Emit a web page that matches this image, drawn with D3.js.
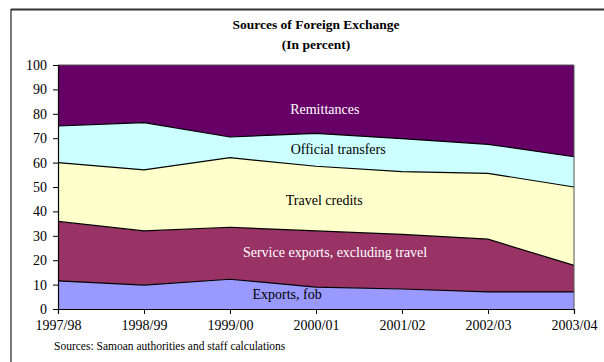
<!DOCTYPE html>
<html>
<head>
<meta charset="utf-8">
<script src="https://cdn.jsdelivr.net/npm/d3@7/dist/d3.min.js"></script>
<style>
  html, body { margin: 0; padding: 0; background: #fff; }
  svg { display: block; }
  text { font-family: "Liberation Serif", "Times New Roman", serif; }
</style>
</head>
<body>
<svg id="chart" width="604" height="362"></svg>
<script>
// Fiscal years on the horizontal axis
const years = ["1997/98", "1998/99", "1999/00", "2000/01", "2001/02", "2002/03", "2003/04"];

// Shares of total foreign exchange receipts, in percent (bottom to top of the stack)
const exportsFob      = [11.5,  9.8, 12.2,  9.0,  8.2,  7.0,  7.0];
const serviceExports  = [24.4, 22.2, 21.3, 23.0, 22.4, 21.6, 10.9];
const travelCredits   = [24.1, 25.0, 28.5, 26.5, 25.7, 27.0, 32.1];
const officialTransf  = [15.0, 19.4,  8.5, 13.5, 13.5, 11.9, 12.4];
const remittances     = [25.0, 23.6, 29.5, 28.0, 30.2, 32.5, 37.6];

const seriesNames = ["Exports, fob", "Service exports, excluding travel", "Travel credits", "Official transfers", "Remittances"];
const yTicks = [0, 10, 20, 30, 40, 50, 60, 70, 80, 90, 100];

const seriesValues = [exportsFob, serviceExports, travelCredits, officialTransf, remittances];
const fills = ["#9999FF", "#993366", "#FFFFCC", "#CCFFFF", "#660066"];

const rows = years.map((yr, i) => {
  const r = { year: yr };
  seriesNames.forEach((n, k) => { r[n] = seriesValues[k][i]; });
  return r;
});

const svg = d3.select("#chart");
const margin = { left: 58, right: 30, top: 65, bottom: 53 };
const W = 604, H = 362;

const x = d3.scalePoint().domain(years).range([margin.left, W - margin.right]);
const y = d3.scaleLinear().domain([0, 100]).range([H - margin.bottom, margin.top]);
const midX = (x.range()[0] + x.range()[1]) / 2;

// Outer frame of the figure panel
svg.append("line").attr("x1", 11).attr("x2", 604).attr("y1", 9.5).attr("y2", 9.5)
  .attr("stroke", "#333").attr("stroke-width", 2);
svg.append("line").attr("x1", 11).attr("x2", 11).attr("y1", 9).attr("y2", 362)
  .attr("stroke", "#222").attr("stroke-width", 1.2);

// Title
svg.append("text").attr("x", midX).attr("y", 29)
  .attr("text-anchor", "middle").attr("font-weight", "bold").attr("font-size", 13.5)
  .text("Sources of Foreign Exchange");
svg.append("text").attr("x", midX).attr("y", 49)
  .attr("text-anchor", "middle").attr("font-weight", "bold").attr("font-size", 13.5)
  .text("(In percent)");

// Stacked areas
const stack = d3.stack().keys(seriesNames);
const layers = stack(rows);

const area = d3.area()
  .x(d => x(d.data.year))
  .y0(d => y(d[0]))
  .y1(d => y(d[1]));

svg.append("g").selectAll("path").data(layers).join("path")
  .attr("d", area)
  .attr("fill", (d, i) => fills[i]);

// Black outline along the top edge of each band
const topLine = d3.line().x(d => x(d.data.year)).y(d => y(d[1]));
svg.append("g").selectAll("path").data(layers.slice(0, -1)).join("path")
  .attr("d", topLine)
  .attr("fill", "none").attr("stroke", "#000").attr("stroke-width", 1.2);

// Plot area border (top and right)
svg.append("path")
  .attr("d", `M${x.range()[0]},${y(100)}H${x.range()[1]}V${y(0)}`)
  .attr("fill", "none").attr("stroke", "#555").attr("stroke-width", 1);

// Axes
const yAxis = d3.axisLeft(y).tickValues(yTicks).tickSize(5).tickPadding(6).tickFormat(d3.format("d"));
const gy = svg.append("g").attr("transform", `translate(${margin.left},0)`).call(yAxis);
const xAxis = d3.axisBottom(x).tickSize(5).tickPadding(6);
const gx = svg.append("g").attr("transform", `translate(0,${y(0)})`).call(xAxis);

[gx, gy].forEach(g => {
  g.select(".domain").attr("stroke", "#000").attr("stroke-width", 1.2);
  g.selectAll(".tick line").attr("stroke", "#000");
  g.selectAll(".tick text").attr("font-family", "Liberation Serif, Times New Roman, serif")
    .attr("font-size", 14).attr("fill", "#000");
});

// Band labels
const plotW = x.range()[1] - x.range()[0];
const bandLabels = [
  { text: "Remittances", fx: 0.517, v: 80.0, color: "#fff" },
  { text: "Official transfers", fx: 0.543, v: 63.5, color: "#000" },
  { text: "Travel credits", fx: 0.516, v: 42.6, color: "#000" },
  { text: "Service exports, excluding travel", fx: 0.537, v: 21.3, color: "#fff" },
  { text: "Exports, fob", fx: 0.444, v: 4.1, color: "#000" }
];
svg.append("g").selectAll("text").data(bandLabels).join("text")
  .attr("x", d => x.range()[0] + d.fx * plotW)
  .attr("y", d => y(d.v))
  .attr("text-anchor", "middle")
  .attr("font-size", 14)
  .attr("fill", d => d.color)
  .text(d => d.text);

// Source note
svg.append("text").attr("x", 54).attr("y", 350).attr("font-size", 11.5)
  .text("Sources: Samoan authorities and staff calculations");
</script>
</body>
</html>
